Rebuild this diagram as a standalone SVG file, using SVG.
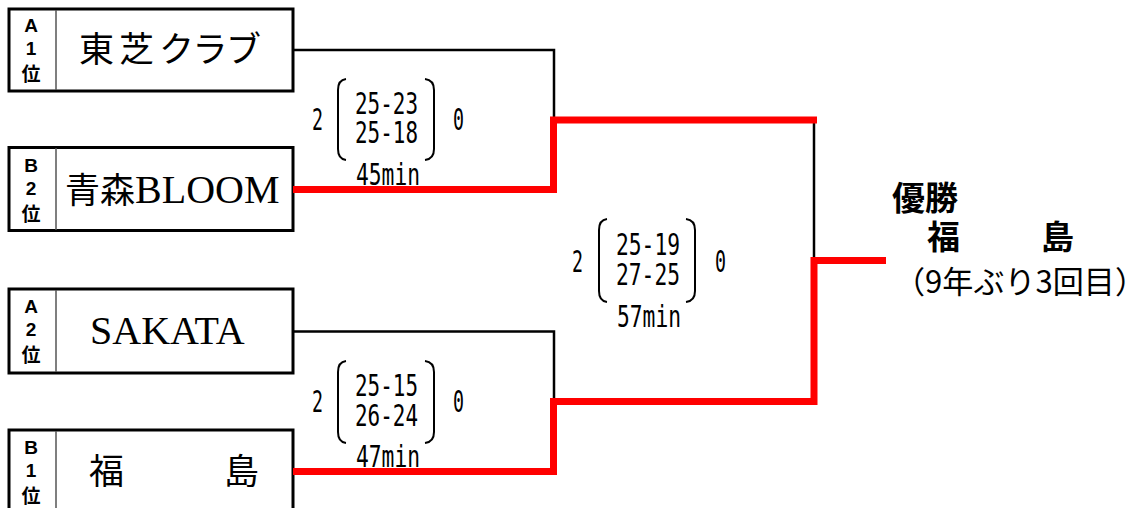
<svg xmlns="http://www.w3.org/2000/svg" width="1147" height="508" viewBox="0 0 1147 508">
<style>
.box{fill:#fff;stroke:#000;stroke-width:3}
.div{stroke:#555;stroke-width:1.5}
.lbl{font-family:"Liberation Sans","Noto Sans CJK JP",sans-serif;font-weight:bold;font-size:19px;text-anchor:middle}
.lblj{font-family:"Noto Sans CJK JP",sans-serif;font-weight:bold;font-size:19px;text-anchor:middle}
.team{font-family:"Liberation Serif","Noto Sans CJK JP",serif;font-size:40px}
.teamj{font-family:"Noto Sans CJK JP",sans-serif;font-size:35px}
.blk{fill:none;stroke:#000;stroke-width:2.5}
.red{fill:none;stroke:#ff0000;stroke-width:7;stroke-linejoin:miter}
.sc{font-family:"DejaVu Sans Mono",monospace;font-size:30px}
.br{fill:none;stroke:#000;stroke-width:2}
.win{font-family:"Noto Sans CJK JP",sans-serif;font-weight:bold;font-size:33px}
.sub{font-family:"Noto Sans CJK JP",sans-serif;font-size:31px}
</style>

<g id="team-toshiba">
<rect class="box" x="9" y="9" width="284" height="82"/>
<line class="div" x1="56" y1="10" x2="56" y2="90"/>
<text class="lbl" x="31" y="32">A</text>
<text class="lbl" x="31" y="55">1</text>
<text class="lblj" x="31" y="81">位</text>
<text class="teamj" x="79" y="62" textLength="182" lengthAdjust="spacing">東 芝 クラブ</text>
</g>

<g id="team-aomori">
<rect class="box" x="9" y="147.5" width="284" height="83"/>
<line class="div" x1="56" y1="148" x2="56" y2="230"/>
<text class="lbl" x="31" y="172">B</text>
<text class="lbl" x="31" y="195">2</text>
<text class="lblj" x="31" y="221">位</text>
<text class="team" x="65" y="203"><tspan font-family="Noto Sans CJK JP, sans-serif" font-size="35">青森</tspan>BLOOM</text>
</g>

<g id="team-sakata">
<rect class="box" x="9" y="289" width="284" height="84"/>
<line class="div" x1="56" y1="290" x2="56" y2="372"/>
<text class="lbl" x="31" y="313">A</text>
<text class="lbl" x="31" y="336">2</text>
<text class="lblj" x="31" y="362">位</text>
<text class="team" x="90" y="344" font-size="41">SAKATA</text>
</g>

<g id="team-fukushima">
<rect class="box" x="9" y="430" width="284" height="100"/>
<line class="div" x1="56" y1="431" x2="56" y2="508"/>
<text class="lbl" x="31" y="454">B</text>
<text class="lbl" x="31" y="477">1</text>
<text class="lblj" x="31" y="503">位</text>
<text class="teamj" x="89 125 161 224" y="484" font-size="36">福　　島</text>
</g>

<g id="connectors">
<path class="blk" d="M293,50 H554 V120"/>
<path class="blk" d="M293,331.5 H554 V401"/>
<path class="blk" d="M814,120 V260"/>
<path class="red" d="M293,189.5 H553.5 V120 H817"/>
<path class="red" d="M293,471.5 H553.5 V401.5 H814 V260.5 H886"/>
</g>

<g id="score-semi1">
<text class="sc" x="312" y="130" textLength="11" lengthAdjust="spacingAndGlyphs">2</text>
<path class="br" d="M346,79 Q338,80 338,90 V149 Q338,159 346,160"/>
<path class="br" d="M425,79 Q434,80 434,90 V149 Q434,159 425,160"/>
<text class="sc" x="355" y="114" textLength="63" lengthAdjust="spacingAndGlyphs">25-23</text>
<text class="sc" x="355" y="143" textLength="63" lengthAdjust="spacingAndGlyphs">25-18</text>
<text class="sc" x="453" y="130" textLength="11" lengthAdjust="spacingAndGlyphs">0</text>
<text class="sc" x="356" y="185" textLength="64" lengthAdjust="spacingAndGlyphs">45min</text>
</g>

<g id="score-final">
<text class="sc" x="572" y="272" textLength="11" lengthAdjust="spacingAndGlyphs">2</text>
<path class="br" d="M607,219 Q599,220 599,230 V291 Q599,301 607,302"/>
<path class="br" d="M686,219 Q695,220 695,230 V291 Q695,301 686,302"/>
<text class="sc" x="616" y="255" textLength="64" lengthAdjust="spacingAndGlyphs">25-19</text>
<text class="sc" x="616" y="285" textLength="64" lengthAdjust="spacingAndGlyphs">27-25</text>
<text class="sc" x="715" y="272" textLength="11" lengthAdjust="spacingAndGlyphs">0</text>
<text class="sc" x="617" y="327" textLength="64" lengthAdjust="spacingAndGlyphs">57min</text>
</g>

<g id="score-semi2">
<text class="sc" x="312" y="412" textLength="11" lengthAdjust="spacingAndGlyphs">2</text>
<path class="br" d="M346,361 Q338,362 338,372 V432 Q338,442 346,443"/>
<path class="br" d="M425,361 Q434,362 434,372 V432 Q434,442 425,443"/>
<text class="sc" x="355" y="396" textLength="63" lengthAdjust="spacingAndGlyphs">25-15</text>
<text class="sc" x="355" y="426" textLength="63" lengthAdjust="spacingAndGlyphs">26-24</text>
<text class="sc" x="453" y="412" textLength="11" lengthAdjust="spacingAndGlyphs">0</text>
<text class="sc" x="356" y="467" textLength="64" lengthAdjust="spacingAndGlyphs">47min</text>
</g>

<g id="winner">
<text class="win" x="892" y="210">優勝</text>
<text class="win" x="927 960 993 1041" y="249">福　　島</text>
<text class="sub" x="894" y="293" textLength="252" lengthAdjust="spacingAndGlyphs">（9年ぶり3回目）</text>
</g>
</svg>
